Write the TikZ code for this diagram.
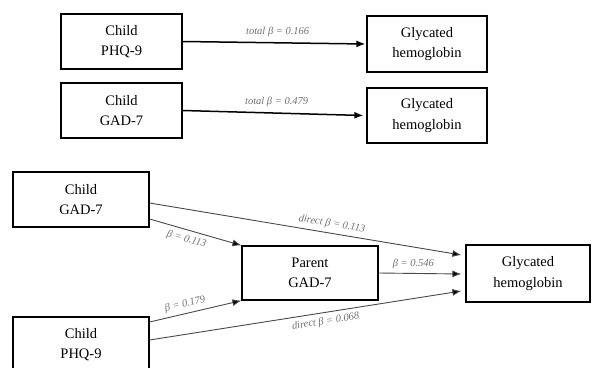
\documentclass[tikz,border=0pt]{standalone}
\usepackage{fontspec}
\setmainfont{Liberation Serif}
\usetikzlibrary{calc,arrows.meta}
\definecolor{lblgray}{HTML}{707070}
\definecolor{linegray}{HTML}{484848}
\tikzset{
  box/.style={draw=black, line width=1.2pt, align=center, inner sep=0pt,
    font=\fontsize{14.5}{20.5}\selectfont},
  lbl/.style={font=\fontsize{10.5}{12}\selectfont\itshape, text=lblgray, inner sep=1pt},
  toparrow/.style={line width=1.5pt, -{Latex[length=9pt,width=7pt]}},
  botarrow/.style={draw=linegray, line width=0.9pt, -{Latex[length=9pt,width=7pt,fill=black]}},
}
\begin{document}
\begin{tikzpicture}[x=1pt,y=-1pt]
\useasboundingbox (0,0) rectangle (592,367);
\clip (0,0) rectangle (592,367);
% top row
\node[box, minimum width=121pt, minimum height=55pt] (c1) at (121.5,41.5) {Child\\PHQ-9};
\node[box, minimum width=120pt, minimum height=56pt] (g1) at (427,44) {Glycated\\hemoglobin};
\node[box, minimum width=121pt, minimum height=55pt] (c2) at (121.5,110.5) {Child\\GAD-7};
\node[box, minimum width=120pt, minimum height=55pt] (g2) at (427,115.5) {Glycated\\hemoglobin};
\draw[toparrow] (c1.east) -- node[lbl, pos=0.52, above=4pt] {total β = 0.166} ($(g1.west)+(-1,0)$);
\draw[toparrow] (c2.east) -- node[lbl, pos=0.52, above=5pt] {total β = 0.479} ($(g2.west)+(-3,0)$);
% bottom
\node[box, minimum width=136pt, minimum height=55pt] (cg) at (81,199.5) {Child\\GAD-7};
\node[box, minimum width=136pt, minimum height=54pt] (pg) at (310,273) {Parent\\GAD-7};
\node[box, minimum width=124pt, minimum height=57pt] (g3) at (528,273.5) {Glycated\\hemoglobin};
\node[box, minimum width=136pt, minimum height=55pt] (cp) at (81,344.5) {Child\\PHQ-9};
\draw[botarrow] ($(cg.east)+(0,3.5)$) -- node[lbl, sloped, pos=0.58, above=3pt] {direct β = 0.113} ($(g3.west)+(-4,-18.5)$);
\draw[botarrow] ($(cg.east)+(0,19.5)$) -- node[lbl, sloped, pos=0.43, below=3pt] {β = 0.113} (pg.north west);
\draw[botarrow] ($(cp.east)+(0,-22.5)$) -- node[lbl, sloped, pos=0.41, above=3pt] {β = 0.179} (pg.south west);
\draw[botarrow] ($(cp.east)+(0,-4.5)$) -- node[lbl, sloped, pos=0.56, below=3pt] {direct β = 0.068} ($(g3.west)+(-4,17.5)$);
\draw[botarrow] (pg.east) -- node[lbl, pos=0.42, above=3pt] {β = 0.546} ($(g3.west)+(-4,0.5)$);
\end{tikzpicture}
\end{document}
